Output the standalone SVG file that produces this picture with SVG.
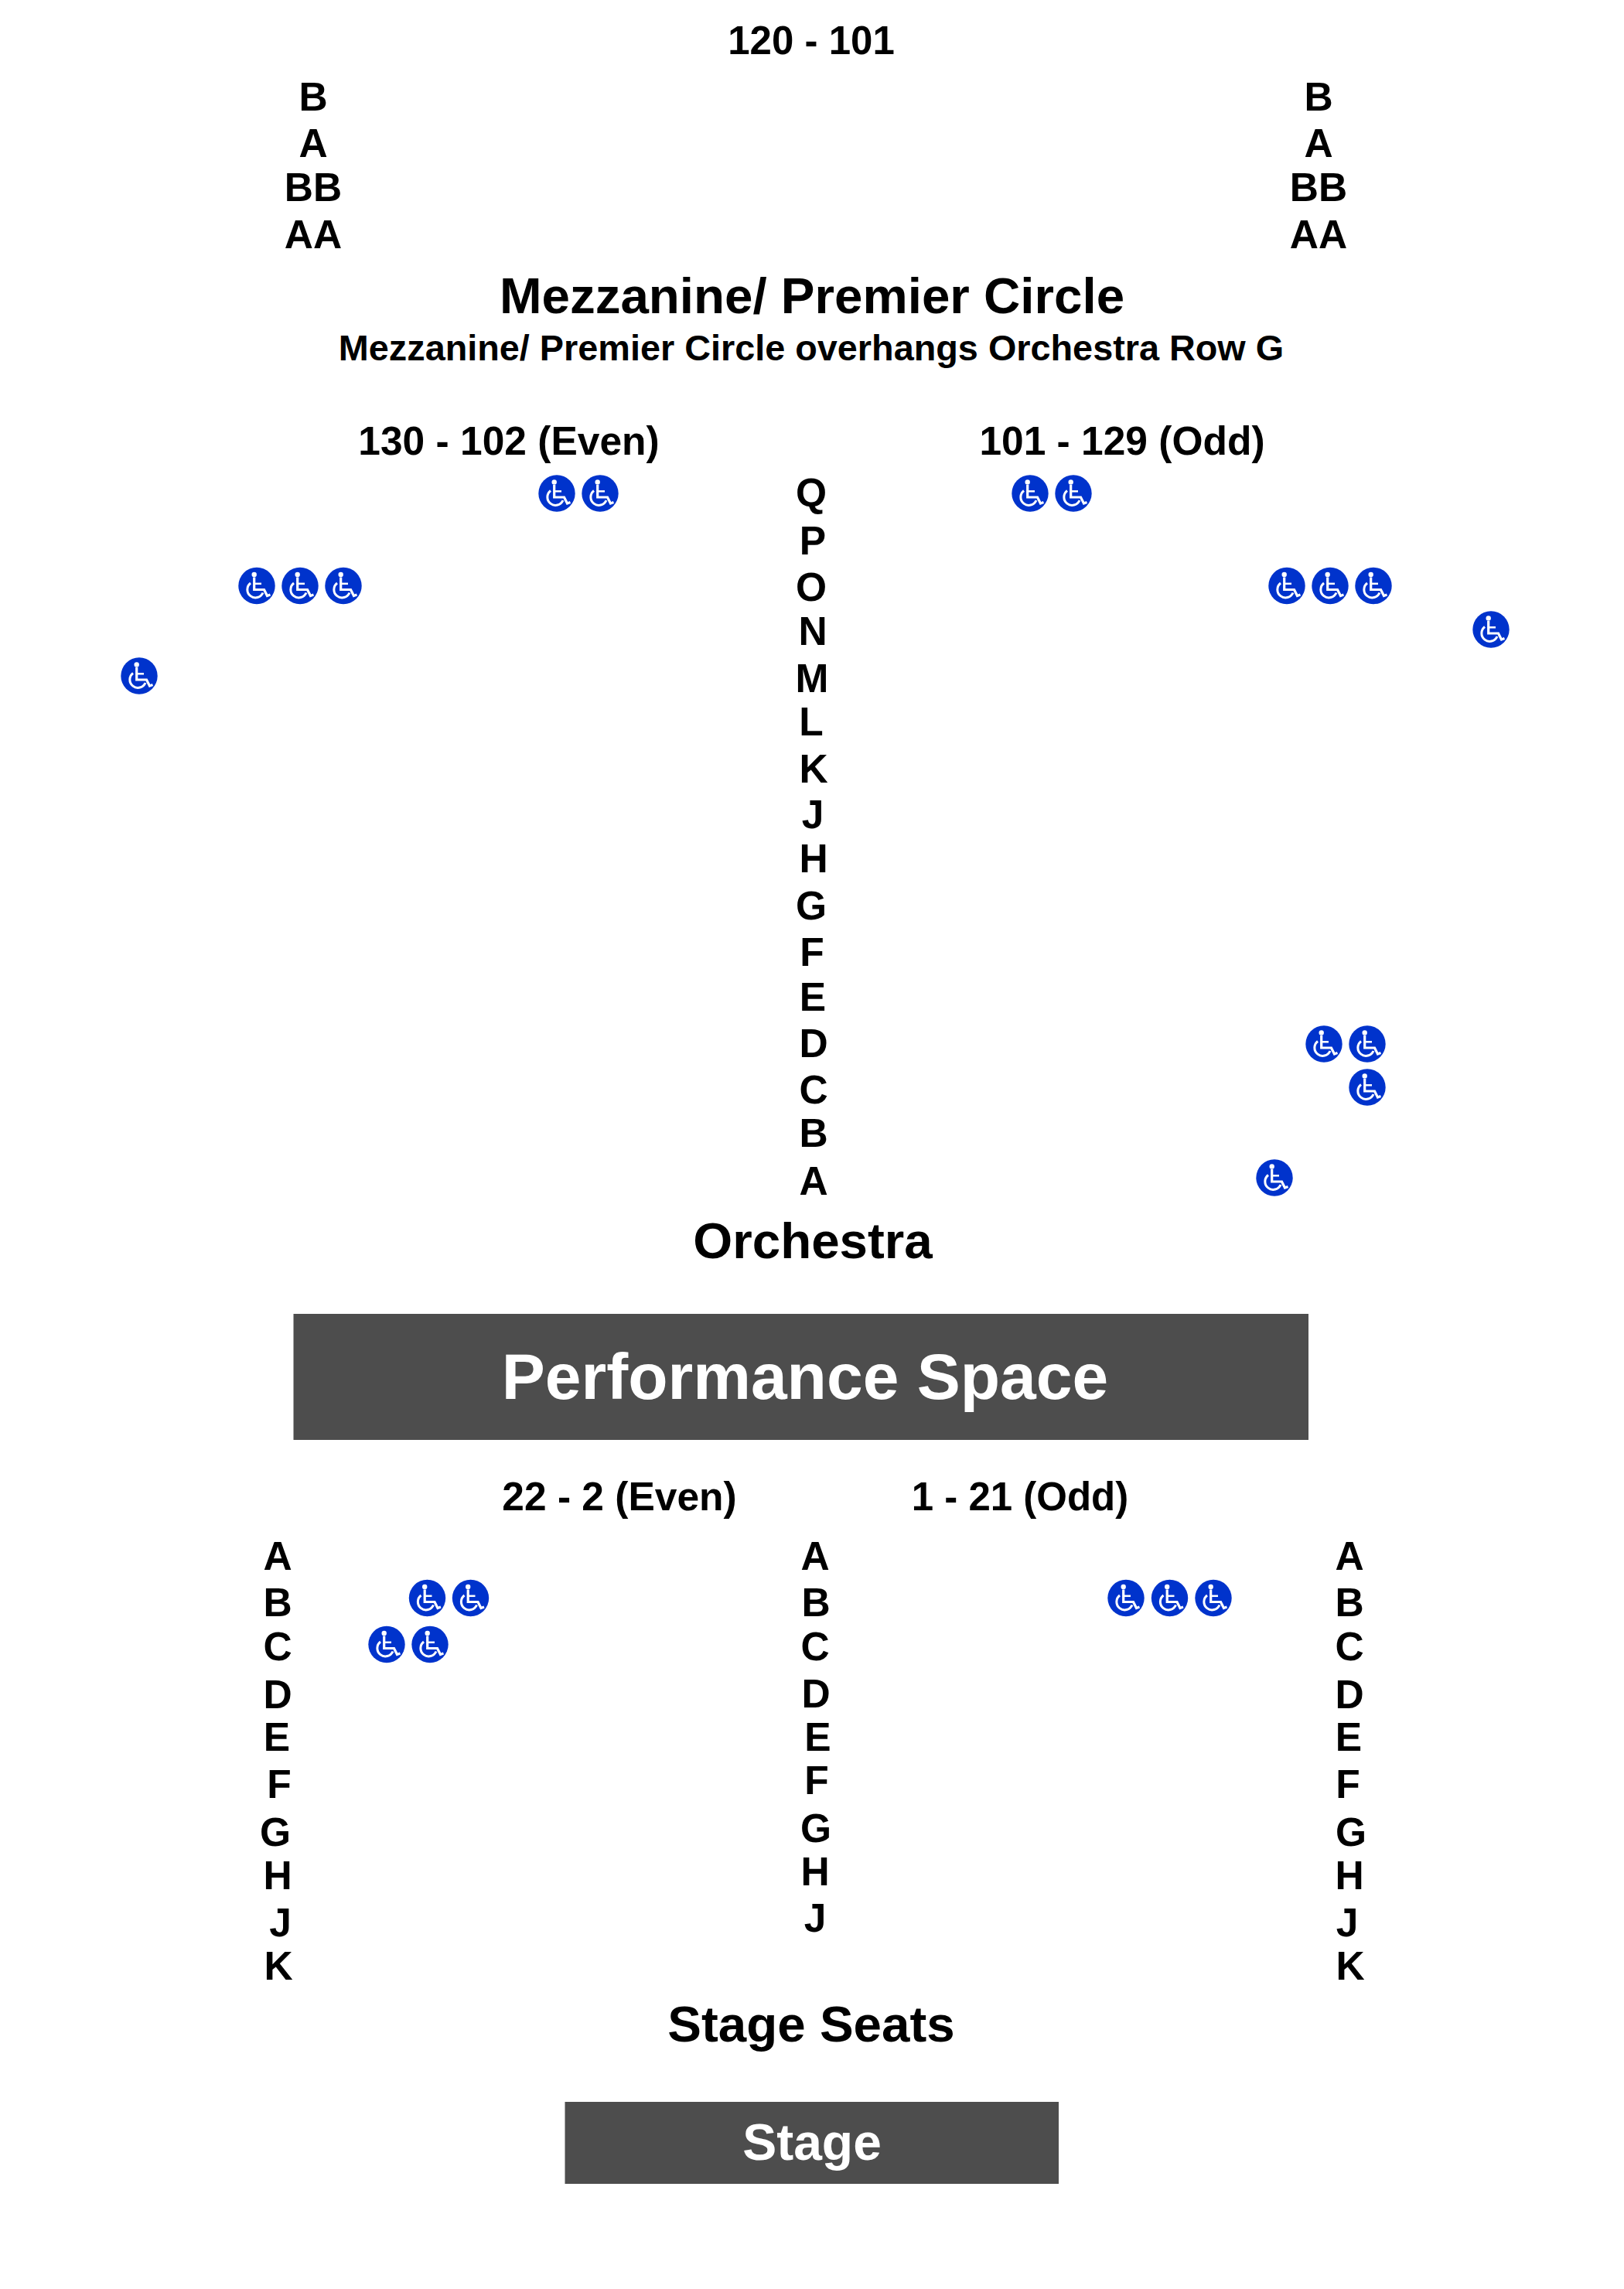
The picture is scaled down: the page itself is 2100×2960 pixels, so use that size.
<svg xmlns="http://www.w3.org/2000/svg" width="2100" height="2960" viewBox="0 0 2100 2960">
<style>
text{font-family:"Liberation Sans",Arial,sans-serif;font-weight:700;text-anchor:middle;fill:#000}
.r{font-size:51.5px}
.h{font-size:65.5px}
.s{font-size:46.8px}
.w{fill:#fff}
.b{fill:#4d4d4d}
.g{fill:none;stroke:#fff}
</style>
<defs>
<g id="wc">
<circle r="23.7" fill="#0033cc"/>
<circle cx="-3.3" cy="-14.5" r="3.2" fill="#fff"/>
<path class="g" d="M-3.3 -11V5H9.5L13.5 13L17.5 11.5" stroke-width="3.2"/>
<path class="g" d="M-3.3 -2.7H6" stroke-width="2.5"/>
<path class="g" d="M-8 -3.500A10.500 10.500 0 1 0 8 9" stroke-width="3"/>
</g>
</defs>
<rect width="2100" height="2960" fill="#fff"/>
<g id="connectors"/>
<g id="mezzanine">
<text class="r" x="1049" y="70" style="font-size:51px">120 - 101</text>
<text class="r" x="405" y="143">B</text><text class="r" x="405" y="203">A</text><text class="r" x="405" y="260">BB</text><text class="r" x="405" y="321">AA</text>
<text class="r" x="1705" y="143">B</text><text class="r" x="1705" y="203">A</text><text class="r" x="1705" y="260">BB</text><text class="r" x="1705" y="321">AA</text>
<text class="h" x="1050" y="405">Mezzanine/ Premier Circle</text>
<text class="s" x="1049" y="466">Mezzanine/ Premier Circle overhangs Orchestra Row G</text>
</g>
<g id="orchestra">
<text class="r" x="658" y="588">130 - 102 (Even)</text>
<text class="r" x="1451" y="588">101 - 129 (Odd)</text>
<text class="r" x="1049" y="655">Q</text><text class="r" x="1051" y="717">P</text><text class="r" x="1049" y="777">O</text><text class="r" x="1051" y="834">N</text><text class="r" x="1050" y="895">M</text><text class="r" x="1049" y="951">L</text><text class="r" x="1052" y="1012">K</text><text class="r" x="1051" y="1071">J</text><text class="r" x="1052" y="1128">H</text><text class="r" x="1049" y="1189">G</text><text class="r" x="1050" y="1249">F</text><text class="r" x="1051" y="1307">E</text><text class="r" x="1052" y="1367">D</text><text class="r" x="1052" y="1427">C</text><text class="r" x="1052" y="1483">B</text><text class="r" x="1052" y="1545">A</text>
<text class="h" x="1051" y="1627">Orchestra</text>
</g>
<g id="wheelchair">
<use href="#wc" x="720" y="638"/><use href="#wc" x="776" y="638"/><use href="#wc" x="1332" y="638"/><use href="#wc" x="1388" y="638"/>
<use href="#wc" x="332" y="757.500"/><use href="#wc" x="388" y="757.500"/><use href="#wc" x="444" y="757.500"/>
<use href="#wc" x="1664" y="757.500"/><use href="#wc" x="1720" y="757.500"/><use href="#wc" x="1776" y="757.500"/>
<use href="#wc" x="1928" y="814"/><use href="#wc" x="180" y="874"/>
<use href="#wc" x="1712" y="1350"/><use href="#wc" x="1768" y="1350"/><use href="#wc" x="1768" y="1406"/><use href="#wc" x="1648" y="1523"/>
<use href="#wc" x="552.500" y="2066.500"/><use href="#wc" x="608.500" y="2066.500"/><use href="#wc" x="500" y="2126.500"/><use href="#wc" x="556" y="2126.500"/>
<use href="#wc" x="1456" y="2066.500"/><use href="#wc" x="1512.500" y="2066.500"/><use href="#wc" x="1569" y="2066.500"/>
</g>
<g id="performance-space">
<rect class="b" x="379.500" y="1699" width="1312.500" height="163"/>
<text class="w" x="1041" y="1809" font-size="84">Performance Space</text>
</g>
<g id="stage-seats">
<text class="r" x="801" y="1953">22 - 2 (Even)</text>
<text class="r" x="1319" y="1953" style="font-size:51px">1 - 21 (Odd)</text>
<text class="r" x="359" y="2029.500">A</text><text class="r" x="359" y="2090">B</text><text class="r" x="359" y="2146.500">C</text><text class="r" x="359" y="2208.500">D</text><text class="r" x="358" y="2264">E</text><text class="r" x="361" y="2325">F</text><text class="r" x="356" y="2386.500">G</text><text class="r" x="359" y="2442.500">H</text><text class="r" x="362.500" y="2504">J</text><text class="r" x="360" y="2560">K</text>
<text class="r" x="1054" y="2029.500">A</text><text class="r" x="1055" y="2090">B</text><text class="r" x="1054" y="2146.500">C</text><text class="r" x="1055" y="2208">D</text><text class="r" x="1057.500" y="2264">E</text><text class="r" x="1056" y="2320">F</text><text class="r" x="1055" y="2381.500">G</text><text class="r" x="1054" y="2438">H</text><text class="r" x="1054" y="2498">J</text>
<text class="r" x="1745" y="2029.500">A</text><text class="r" x="1745" y="2090">B</text><text class="r" x="1745" y="2146.500">C</text><text class="r" x="1745" y="2208.500">D</text><text class="r" x="1744" y="2264">E</text><text class="r" x="1743" y="2325">F</text><text class="r" x="1747" y="2386.500">G</text><text class="r" x="1745" y="2442.500">H</text><text class="r" x="1742" y="2504">J</text><text class="r" x="1746" y="2560">K</text>
<text class="h" x="1049" y="2640" style="font-size:65.5px">Stage Seats</text>
</g>
<g id="stage">
<rect class="b" x="730.500" y="2718" width="638.500" height="106"/>
<text class="w" x="1050" y="2792.500" font-size="66">Stage</text>
</g>
</svg>
